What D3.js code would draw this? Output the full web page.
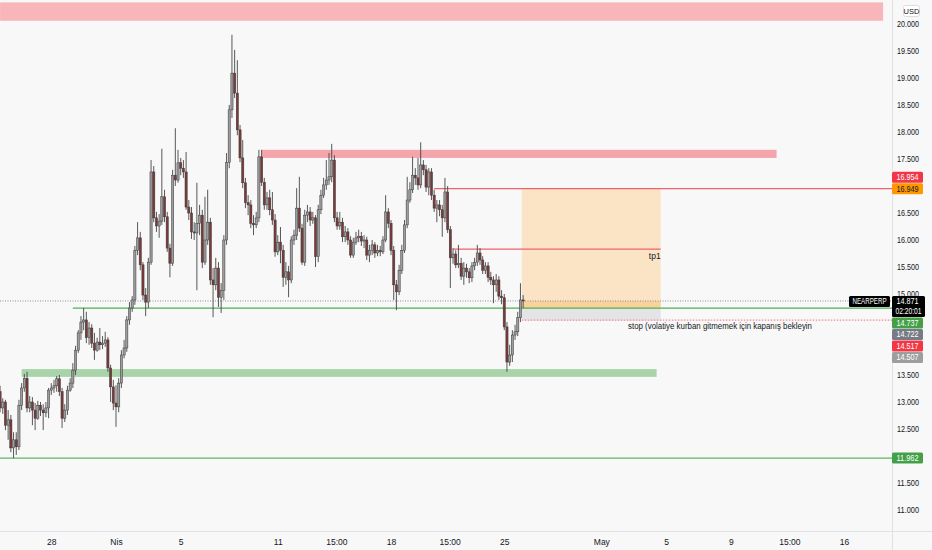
<!DOCTYPE html>
<html><head><meta charset="utf-8">
<script src="https://cdn.jsdelivr.net/npm/d3@7"></script>
<style>
body{margin:0;background:#f8f8f8;}
svg{display:block;}
text{font-family:"Liberation Sans",Arial,sans-serif;}
</style>
</head><body>
<svg id="c" width="932" height="550"></svg>
<script>
// ---- DATA (4h candles, NEARPERP, USD) ----
const firstOpen = 13.19;
const closes = [
12.89,13.00,12.57,12.67,12.15,12.30,12.17,12.94,13.26,13.44,
12.89,13.00,12.85,12.70,12.94,12.85,12.80,12.89,13.22,13.26,
13.30,13.43,13.19,12.70,12.85,13.22,13.35,13.59,13.96,14.28,
14.48,14.52,14.19,14.37,14.09,13.96,14.11,14.06,14.09,14.15,
13.63,13.28,12.98,12.91,13.35,13.87,14.00,14.52,14.74,14.89,
15.81,16.04,15.54,14.98,14.85,15.59,17.26,16.41,16.26,16.35,
16.80,16.43,15.85,15.57,17.20,17.11,17.43,17.33,17.26,16.61,
16.50,16.15,16.13,16.31,16.46,15.59,16.00,16.33,15.26,15.17,
15.48,14.94,15.07,16.00,17.44,18.41,19.09,18.72,18.04,17.52,
17.06,16.69,16.65,16.31,16.28,16.41,17.54,17.07,16.65,16.78,
16.56,16.37,15.78,15.96,15.81,15.31,15.41,15.26,16.00,16.09,
16.59,16.22,15.59,16.46,16.52,16.37,16.41,15.69,16.56,16.83,
17.02,17.11,17.17,17.48,16.41,16.26,16.33,16.06,16.15,16.00,
15.72,15.96,16.04,16.07,15.98,16.00,15.72,15.81,15.91,15.76,
15.81,15.78,16.00,16.52,16.31,15.81,15.17,15.04,15.44,15.81,
16.28,16.74,16.93,17.20,17.15,17.02,17.39,17.30,16.98,17.26,
16.83,16.59,16.65,16.56,16.41,16.89,16.19,15.67,15.74,15.54,
15.57,15.33,15.48,15.41,15.30,15.52,15.59,15.76,15.63,15.44,
15.52,15.31,15.26,15.17,15.26,14.96,14.93,14.39,13.74,13.87,
14.24,14.30,14.56,14.89,14.871];
const highs = [
13.30,13.07,13.04,12.85,12.76,12.44,12.44,13.04,13.35,13.52,
13.56,13.11,13.09,12.98,13.02,13.00,12.96,13.00,13.26,13.35,
13.41,13.48,13.50,13.26,12.96,13.30,13.44,13.72,14.04,14.33,
14.59,14.74,14.67,14.48,14.44,14.28,14.19,14.37,14.22,14.30,
14.20,13.69,13.41,13.31,13.44,13.96,14.15,14.59,14.85,14.96,
15.89,16.33,16.15,15.59,15.11,15.67,17.48,17.37,16.52,16.48,
17.69,16.93,16.52,15.93,17.30,18.07,17.67,17.52,17.48,17.63,
16.74,16.61,16.33,17.06,16.65,16.56,16.80,16.93,16.41,15.48,
15.67,15.59,15.20,16.09,17.61,18.50,19.80,19.52,19.33,18.13,
17.85,17.15,16.83,16.74,16.46,16.52,17.67,17.67,17.15,16.89,
16.93,16.89,16.48,16.09,16.24,15.91,15.59,15.52,16.07,16.19,
16.96,17.17,16.30,16.56,16.65,16.61,16.52,16.46,16.65,16.93,
17.15,17.48,17.61,17.78,17.57,16.52,16.52,16.41,16.26,16.22,
16.07,16.04,16.15,16.19,16.15,16.09,16.06,15.91,16.00,15.96,
15.91,15.89,16.07,16.83,16.59,16.37,15.89,15.26,15.54,15.91,
16.37,17.17,17.07,17.54,17.33,17.52,17.81,17.48,17.39,17.33,
17.33,16.93,16.74,16.74,16.65,17.15,17.00,16.26,15.85,15.81,
15.91,15.67,15.59,15.56,15.48,15.59,15.67,15.91,15.85,15.70,
15.59,15.59,15.41,15.33,15.37,15.33,15.07,15.00,14.48,14.06,
14.33,14.43,14.67,15.20,14.98];
const lows = [
12.81,12.78,12.48,12.30,12.07,11.96,12.02,12.11,12.85,13.19,
12.81,12.81,12.57,12.48,12.67,12.74,12.48,12.72,12.70,13.13,
13.17,13.19,13.11,12.52,12.63,12.76,13.19,13.26,13.50,13.91,
14.15,14.33,14.09,14.06,14.00,13.78,13.93,13.96,13.98,14.02,
13.56,13.00,12.85,12.54,12.81,13.26,13.81,13.93,14.43,14.67,
14.80,15.72,15.44,14.89,14.59,14.74,15.54,16.33,16.15,16.04,
16.28,16.33,15.78,15.31,15.52,17.00,17.06,17.20,17.15,16.56,
16.37,16.02,16.00,15.07,16.09,15.48,15.54,15.91,15.17,14.57,
15.07,14.76,14.65,14.89,15.91,17.33,18.26,18.63,17.94,17.44,
16.96,16.59,16.46,16.22,16.09,16.22,16.33,17.00,16.56,16.56,
16.46,16.28,15.69,15.72,15.57,15.13,15.17,14.94,15.20,15.91,
16.00,16.15,15.54,15.52,16.33,16.26,16.30,15.50,15.59,16.48,
16.78,16.93,17.02,17.07,16.33,16.19,16.19,15.96,15.96,15.91,
15.67,15.67,15.91,15.96,15.89,15.85,15.63,15.59,15.72,15.67,
15.70,15.70,15.74,15.96,16.22,15.72,14.89,14.70,14.98,15.37,
15.76,16.22,16.69,16.87,17.02,16.93,16.96,17.20,16.89,16.83,
16.74,16.52,16.33,16.44,16.06,16.33,16.13,15.11,15.56,15.48,
15.48,15.26,15.17,15.30,15.20,15.22,15.44,15.52,15.54,15.37,
15.37,15.22,15.17,14.83,15.04,14.89,14.81,14.33,13.56,13.67,
13.74,14.15,14.22,14.48,14.74];
const firstCandleTime = Date.UTC(2022,2,24,20);
const candleHours = 4;

const yTicks = [20,19.5,19,18.5,18,17.5,16.5,16,15.5,15,13.5,13,12.5,11.5,11];
const xTickDates = [Date.UTC(2022,2,28),Date.UTC(2022,3,1),Date.UTC(2022,3,5),Date.UTC(2022,3,11),
  Date.UTC(2022,3,14,15),Date.UTC(2022,3,18),Date.UTC(2022,3,21,15),Date.UTC(2022,3,25),
  Date.UTC(2022,4,1),Date.UTC(2022,4,5),Date.UTC(2022,4,9),Date.UTC(2022,4,12,15),Date.UTC(2022,4,16)];
const xTickLabels = ["28","Nis","5","11","15:00","18","15:00","25","May","5","9","15:00","16"];

// zones (rectangles)
const zoneLow   = [20.06, 17.52, 13.465];
const zoneHigh  = [20.40, 17.67, 13.61];
const zoneStart = [Date.UTC(2022,2,24,20), Date.UTC(2022,3,10,0), Date.UTC(2022,2,26,4)];
const zoneEnd   = [Date.UTC(2022,4,18,10), Date.UTC(2022,4,11,20), Date.UTC(2022,4,4,10)];

// horizontal levels
const lastPrice = 14.871;
const countdown = "02:20:01";
const symbol = "NEARPERP";
const resLevel = 16.95, resStart = Date.UTC(2022,3,20,16);
const tp1Level = 15.83, tp1Start = Date.UTC(2022,3,21,20), tp1End = Date.UTC(2022,4,4,16);
const greenLevel = 14.737, greenStart = Date.UTC(2022,2,29,8);
const supportLevel = 11.962;
const stopLevel = 14.517;
// position box
const posStart = Date.UTC(2022,3,26,2), posEnd = Date.UTC(2022,4,4,16);
const posTarget = 16.949, posEntryTop = 14.871, posEntry = 14.737;
const lossTop = 14.722, lossBottom = 14.507;

const axisLabelValues = [16.954, 16.949, 14.737, 14.722, 14.517, 14.507, 11.962];
const axisLabelKinds  = ["red","orange","green","gray","red","lightgray","green"];

const noteTp1 = "tp1";
const noteStop = "stop (volatiye kurban gitmemek için kapanış bekleyin";

// ---- CHART ----
const W = 932, H = 550, plotR = 892, plotB = 531;
const svg = d3.select("#c");
svg.append("rect").attr("width",W).attr("height",H).attr("fill","#f8f8f8");

const x = d3.scaleUtc().domain([Date.UTC(2022,3,1), Date.UTC(2022,4,16)]).range([116, 844]);
const y = d3.scaleLinear().domain([11, 20]).range([510, 24]);

svg.append("clipPath").attr("id","pc").append("rect").attr("x",0).attr("y",0).attr("width",plotR).attr("height",plotB);
const g = svg.append("g").attr("clip-path","url(#pc)");

// zones
const zoneColors = ["#f8b6bb","#f4a5ac","#a9d4aa"];
zoneLow.forEach((lo,i)=>{
  g.append("rect").attr("x",x(zoneStart[i])).attr("width",x(zoneEnd[i])-x(zoneStart[i]))
   .attr("y",y(zoneHigh[i])).attr("height",y(lo)-y(zoneHigh[i])).attr("fill",zoneColors[i]);
});

// position box
g.append("rect").attr("x",x(posStart)).attr("width",x(posEnd)-x(posStart))
 .attr("y",y(posTarget)).attr("height",y(posEntry)-y(posTarget)).attr("fill","#fbe4c6");
g.append("rect").attr("x",x(posStart)).attr("width",x(posEnd)-x(posStart))
 .attr("y",y(posEntryTop)).attr("height",y(posEntry)-y(posEntryTop)).attr("fill","#f9d19b");
g.append("rect").attr("x",x(posStart)).attr("width",x(posEnd)-x(posStart))
 .attr("y",y(lossTop)).attr("height",y(lossBottom)-y(lossTop)).attr("fill","#e4e4e6");

// levels
function hline(p,x0,x1,color,dash,w){
  g.append("line").attr("x1",x0).attr("x2",x1).attr("y1",y(p)).attr("y2",y(p))
   .attr("stroke",color).attr("stroke-width",w||1).attr("stroke-dasharray",dash||null);
}
hline(resLevel, x(resStart), plotR, "#f0616c", null, 1.3);
hline(tp1Level, x(tp1Start), x(tp1End), "#f0616c", null, 1.3);
hline(greenLevel, x(greenStart), plotR, "#4caf50", null, 1.2);
hline(supportLevel, 0, plotR, "#5cb860", null, 1.2);
hline(stopLevel, x(posStart), plotR, "#f48a94", "1.5,1.5", 1.1);
hline(lastPrice, 0, plotR, "#8a8d96", "1,1.5");

// candles
const candles = closes.map((c,i)=>({
  t: firstCandleTime + i*candleHours*3600e3,
  o: i===0 ? firstOpen : closes[i-1], c, h: highs[i], l: lows[i]
}));
const cg = g.append("g");
cg.selectAll("line.w").data(candles).join("line")
  .attr("x1",d=>x(d.t)).attr("x2",d=>x(d.t)).attr("y1",d=>y(d.h)).attr("y2",d=>y(d.l))
  .attr("stroke","#454545").attr("stroke-width",0.9);
cg.selectAll("rect.b").data(candles).join("rect")
  .attr("x",d=>x(d.t)-1.1).attr("width",2.2)
  .attr("y",d=>y(Math.max(d.o,d.c))).attr("height",d=>Math.max(0.8,Math.abs(y(d.o)-y(d.c))))
  .attr("fill",d=>d.c>=d.o ? "#9c9c9c" : "#7b3a3a")
  .attr("stroke","#3a3a3a").attr("stroke-width",0.5);

// notes
g.append("text").attr("x",x(tp1End)).attr("y",y(tp1Level)+10).attr("text-anchor","end")
 .attr("font-size",8.5).attr("fill","#131722").text(noteTp1);
g.append("text").attr("x",628).attr("y",y(stopLevel)+9).attr("font-size",8.5).attr("fill","#131722")
 .attr("textLength",184).attr("lengthAdjust","spacingAndGlyphs").text(noteStop);

// separators
svg.append("line").attr("x1",plotR+0.5).attr("x2",plotR+0.5).attr("y1",0).attr("y2",H).attr("stroke","#dfe1e5");
svg.append("line").attr("x1",0).attr("x2",W).attr("y1",plotB+0.5).attr("y2",plotB+0.5).attr("stroke","#dfe1e5");

// y axis
const ya = svg.append("g").attr("transform",`translate(${plotR+4},0)`)
  .call(d3.axisRight(y).tickValues(yTicks).tickFormat(d3.format(".3f")).tickSize(0));
ya.select(".domain").remove();
ya.selectAll("text").attr("font-size",8.5).attr("fill","#131722").attr("font-family",null).attr("x",1)
  .attr("textLength",22).attr("lengthAdjust","spacingAndGlyphs");

// x axis
const xa = svg.append("g").attr("transform",`translate(0,${plotB+5})`)
  .call(d3.axisBottom(x).tickValues(xTickDates).tickFormat((d,i)=>xTickLabels[i]).tickSize(0));
xa.select(".domain").remove();
xa.selectAll("text").attr("font-size",8.5).attr("fill","#131722").attr("font-family",null);

// USD badge
svg.append("rect").attr("x",903.5).attr("y",5.5).attr("width",16).attr("height",11).attr("rx",2)
  .attr("fill","#fff").attr("stroke","#dcdde0");
svg.append("text").attr("x",911.5).attr("y",14).attr("text-anchor","middle").attr("font-size",7.5)
  .attr("fill","#131722").text("USD");

// axis price labels
const kindFill = {red:"#f23645",orange:"#ff9800",green:"#43a047",gray:"#787b86",lightgray:"#9e9e9e"};
const kindText = {red:"#fff",orange:"#131722",green:"#fff",gray:"#fff",lightgray:"#fff"};
const lh = 11;
const curTop = Math.round(y(lastPrice)) - 5, curBot = curTop + 21;
const placed = [];
// labels below the current price: pushed downward
let floor = curBot + 0.5;
axisLabelValues.map((v,i)=>({v,i})).filter(d=>d.v<lastPrice).sort((a,b)=>b.v-a.v).forEach(d=>{
  let top = y(d.v) - lh/2;
  if (top < floor) top = floor;
  placed.push({...d, top}); floor = top + lh + 0.5;
});
// labels above: pushed upward
let ceil = curTop - 0.5;
axisLabelValues.map((v,i)=>({v,i})).filter(d=>d.v>lastPrice).sort((a,b)=>a.v-b.v).forEach(d=>{
  let top = y(d.v) - lh/2;
  if (top + lh > ceil) top = ceil - lh;
  placed.push({...d, top}); ceil = top - 0.5;
});
placed.forEach(d=>{
  const k = axisLabelKinds[d.i];
  svg.append("rect").attr("x",plotR).attr("y",d.top).attr("width",31).attr("height",lh).attr("rx",1.5).attr("fill",kindFill[k]);
  svg.append("text").attr("x",plotR+4.5).attr("y",d.top+8.3).attr("font-size",8.5).attr("fill",kindText[k])
    .attr("textLength",22).attr("lengthAdjust","spacingAndGlyphs").text(d3.format(".3f")(d.v));
});
// current price label
svg.append("rect").attr("x",plotR).attr("y",curTop).attr("width",33).attr("height",21).attr("rx",1.5).attr("fill","#000");
svg.append("text").attr("x",plotR+4.5).attr("y",curTop+8.4).attr("font-size",8.5).attr("fill","#fff")
  .attr("textLength",22).attr("lengthAdjust","spacingAndGlyphs").text(d3.format(".3f")(lastPrice));
svg.append("text").attr("x",plotR+3.5).attr("y",curTop+18.2).attr("font-size",8.5).attr("fill","#fff")
  .attr("textLength",26).attr("lengthAdjust","spacingAndGlyphs").text(countdown);
svg.append("rect").attr("x",849).attr("y",curTop).attr("width",41).attr("height",lh).attr("rx",1.5).attr("fill","#000");
svg.append("text").attr("x",852.5).attr("y",curTop+8.3).attr("font-size",8.5).attr("fill","#fff")
  .attr("textLength",34).attr("lengthAdjust","spacingAndGlyphs").text(symbol);
</script>
</body></html>
